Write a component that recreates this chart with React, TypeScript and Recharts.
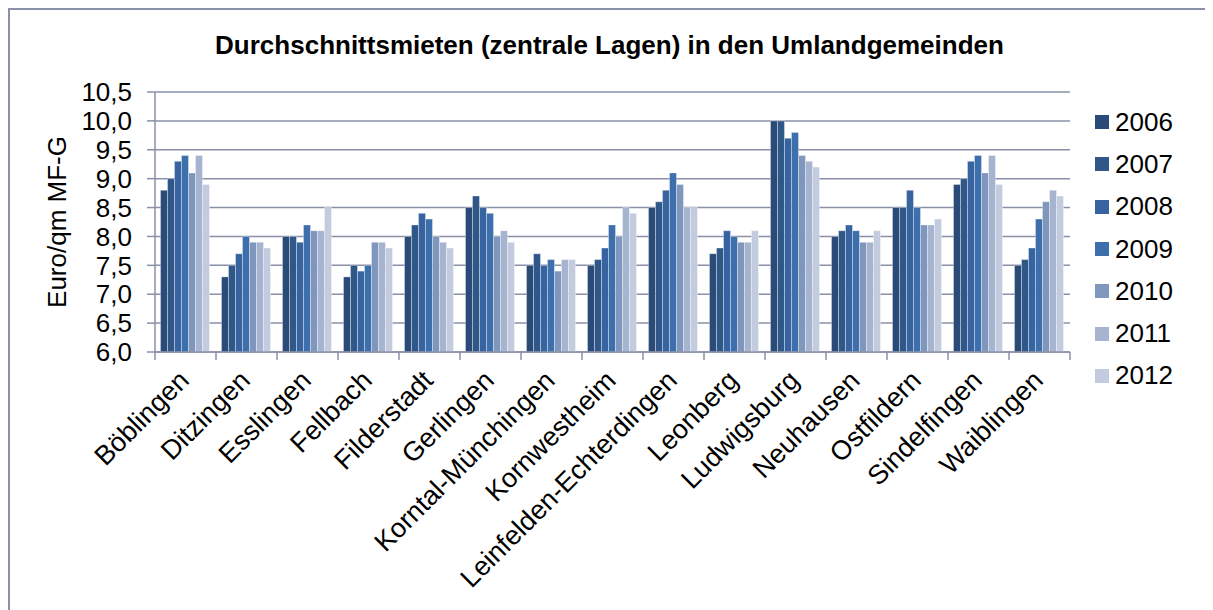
import React from 'react';
import { BarChart, Bar, XAxis, YAxis, CartesianGrid } from 'recharts';

const CATEGORIES = [
  'Böblingen',
  'Ditzingen',
  'Esslingen',
  'Fellbach',
  'Filderstadt',
  'Gerlingen',
  'Korntal-Münchingen',
  'Kornwestheim',
  'Leinfelden-Echterdingen',
  'Leonberg',
  'Ludwigsburg',
  'Neuhausen',
  'Ostfildern',
  'Sindelfingen',
  'Waiblingen',
];

const YEARS = ['2006', '2007', '2008', '2009', '2010', '2011', '2012'];

// one row per year, same order as CATEGORIES
const RENT_2006 = [8.8, 7.3, 8.0, 7.3, 8.0, 8.5, 7.5, 7.5, 8.5, 7.7, 10.0, 8.0, 8.5, 8.9, 7.5];
const RENT_2007 = [9.0, 7.5, 8.0, 7.5, 8.2, 8.7, 7.7, 7.6, 8.6, 7.8, 10.0, 8.1, 8.5, 9.0, 7.6];
const RENT_2008 = [9.3, 7.7, 7.9, 7.4, 8.4, 8.5, 7.5, 7.8, 8.8, 8.1, 9.7, 8.2, 8.8, 9.3, 7.8];
const RENT_2009 = [9.4, 8.0, 8.2, 7.5, 8.3, 8.4, 7.6, 8.2, 9.1, 8.0, 9.8, 8.1, 8.5, 9.4, 8.3];
const RENT_2010 = [9.1, 7.9, 8.1, 7.9, 8.0, 8.0, 7.4, 8.0, 8.9, 7.9, 9.4, 7.9, 8.2, 9.1, 8.6];
const RENT_2011 = [9.4, 7.9, 8.1, 7.9, 7.9, 8.1, 7.6, 8.5, 8.5, 7.9, 9.3, 7.9, 8.2, 9.4, 8.8];
const RENT_2012 = [8.9, 7.8, 8.5, 7.8, 7.8, 7.9, 7.6, 8.4, 8.5, 8.1, 9.2, 8.1, 8.3, 8.9, 8.7];

const SERIES = [RENT_2006, RENT_2007, RENT_2008, RENT_2009, RENT_2010, RENT_2011, RENT_2012];

const Y_TICKS = [6.0, 6.5, 7.0, 7.5, 8.0, 8.5, 9.0, 9.5, 10.0, 10.5];

const COLORS = ['#2A4A78', '#2F5889', '#3764A0', '#3D6FAD', '#7F96BD', '#A7B4CF', '#C3CBDE'];

const data = CATEGORIES.map((name, i) => {
  const row: any = { name };
  YEARS.forEach((year, s) => {
    row[year] = SERIES[s][i];
  });
  return row;
});

const FONT = '"Liberation Sans", Arial, sans-serif';
const AXIS_COLOR = '#8A90A8';

const CHART_W = 1203;
const CHART_H = 600;
const PLOT_LEFT = 145;
const PLOT_RIGHT = 1060;
const BAND = (PLOT_RIGHT - PLOT_LEFT) / CATEGORIES.length;

const formatTick = (v: number) => v.toFixed(1).replace('.', ',');

const CategoryTick = ({ x, y, payload, index }: any) => {
  const left = x - BAND / 2;
  const right = x + BAND / 2;
  return (
    <g>
      <line x1={left} y1={y} x2={left} y2={y + 8} stroke={AXIS_COLOR} strokeWidth={1.5} />
      {index === CATEGORIES.length - 1 && (
        <line x1={right} y1={y} x2={right} y2={y + 8} stroke={AXIS_COLOR} strokeWidth={1.5} />
      )}
      <text
        x={0}
        y={0}
        transform={`translate(${x + 5},${y + 30}) rotate(-45)`}
        textAnchor="end"
        fontSize={27}
        fontFamily={FONT}
        fill="#000"
      >
        {payload.value}
      </text>
    </g>
  );
};

export default function App() {
  return (
    <div
      style={{
        position: 'relative',
        width: CHART_W,
        height: CHART_H,
        borderLeft: `2px solid ${AXIS_COLOR}`,
        borderTop: `2px solid ${AXIS_COLOR}`,
        fontFamily: FONT,
        background: '#fff',
      }}
    >
      <div
        style={{
          position: 'absolute',
          left: 0,
          top: 20,
          width: 1199,
          textAlign: 'center',
          fontSize: 26,
          lineHeight: '30px',
          fontWeight: 'bold',
          color: '#000',
        }}
      >
        Durchschnittsmieten (zentrale Lagen) in den Umlandgemeinden
      </div>
      <div
        style={{
          position: 'absolute',
          left: 47,
          top: 212,
          transform: 'translate(-50%, -50%) rotate(-90deg)',
          whiteSpace: 'nowrap',
          fontSize: 26,
          color: '#000',
        }}
      >
        Euro/qm MF-G
      </div>
      <div style={{ position: 'absolute', left: 1085, top: 91, width: 118 }}>
        {YEARS.map((year, i) => (
          <div key={year} style={{ display: 'flex', alignItems: 'center', height: 42.3 }}>
            <span style={{ width: 14, height: 14, background: COLORS[i], marginRight: 6 }} />
            <span style={{ fontSize: 26, color: '#000' }}>{year}</span>
          </div>
        ))}
      </div>
      <BarChart
        width={CHART_W}
        height={CHART_H}
        data={data}
        margin={{ top: 82, right: CHART_W - PLOT_RIGHT, bottom: 8, left: 0 }}
        barCategoryGap="9%"
        barGap={0}
      >
        <CartesianGrid vertical={false} stroke={AXIS_COLOR} strokeWidth={1.5} />
        <XAxis
          dataKey="name"
          interval={0}
          height={250}
          tickSize={0}
          tickMargin={0}
          axisLine={{ stroke: AXIS_COLOR, strokeWidth: 1.5 }}
          tickLine={false}
          tick={<CategoryTick />}
        />
        <YAxis
          width={PLOT_LEFT}
          domain={[6, 10.5]}
          ticks={Y_TICKS}
          interval={0}
          allowDataOverflow
          tickFormatter={formatTick}
          tickSize={8}
          tickMargin={15}
          axisLine={{ stroke: AXIS_COLOR, strokeWidth: 1.5 }}
          tickLine={{ stroke: AXIS_COLOR, strokeWidth: 1.5 }}
          tick={{ fontSize: 26, fill: '#000', fontFamily: FONT }}
        />
        {YEARS.map((year, i) => (
          <Bar
            key={year}
            dataKey={year}
            fill={COLORS[i]}
            stroke="#ffffff"
            strokeOpacity={0.35}
            strokeWidth={1}
            isAnimationActive={false}
          />
        ))}
      </BarChart>
    </div>
  );
}
